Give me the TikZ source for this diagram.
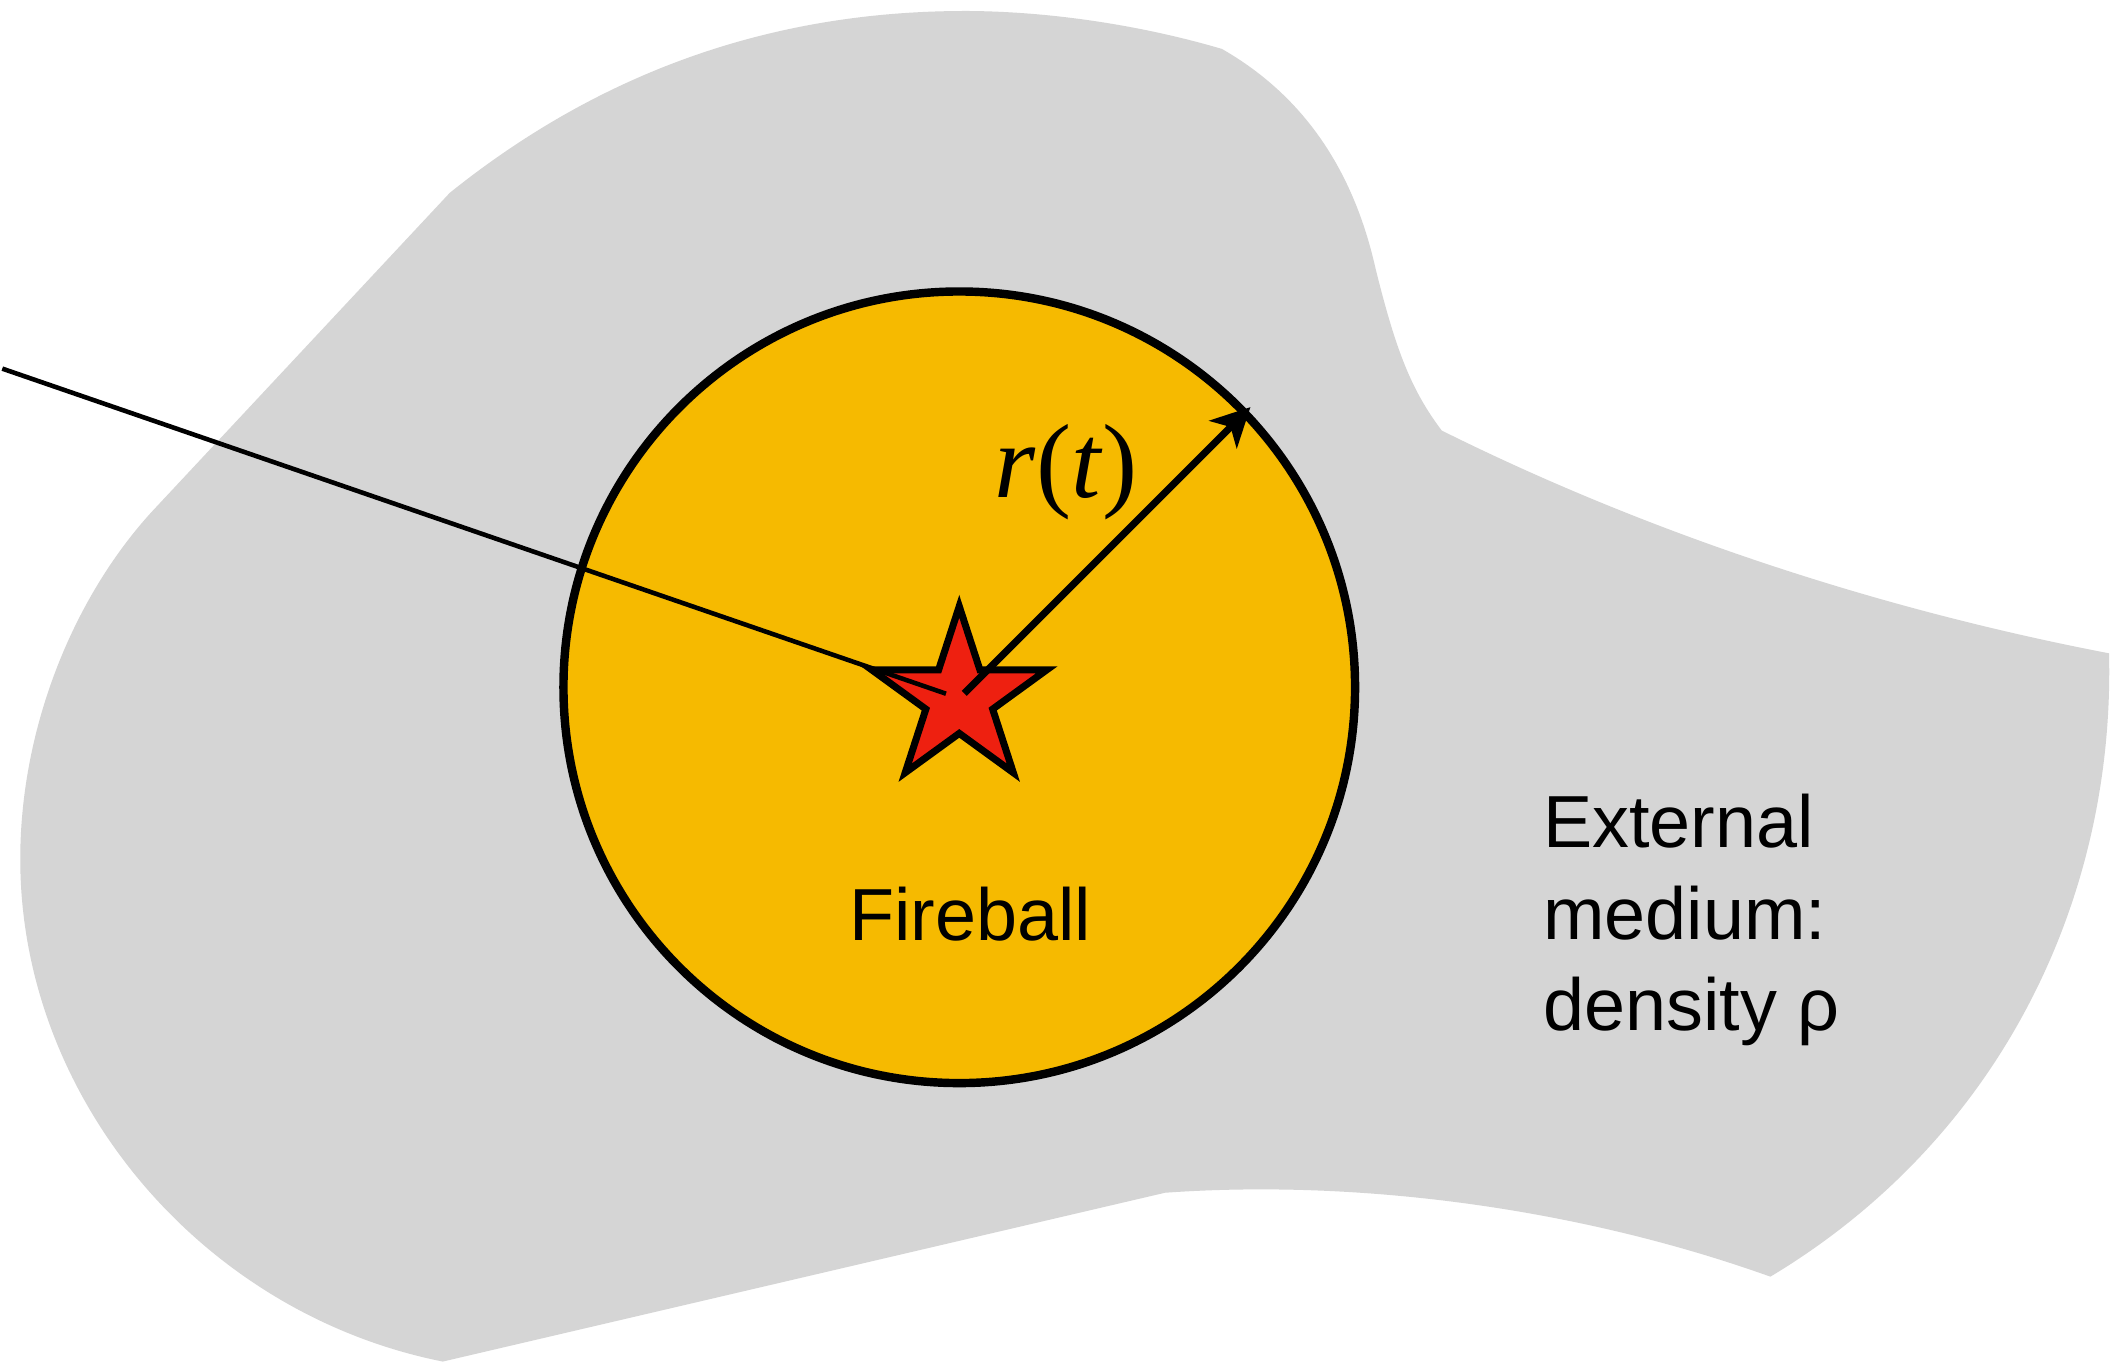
\documentclass[tikz,border=0pt]{standalone}
\usepackage{fontspec}
\setmainfont{Liberation Sans}
\newfontfamily\timesfont{Liberation Serif}
\usetikzlibrary{shapes.geometric,arrows.meta}
\definecolor{mediumgray}{HTML}{D5D5D5}
\definecolor{fireyellow}{HTML}{F6BA00}
\definecolor{starred}{HTML}{EE2010}

\begin{document}
\begin{tikzpicture}[x=0.01cm, y=-0.01cm,
    caption/.style={font=\fontsize{21}{26}\selectfont, inner sep=0pt}]
    \fill[white] (0,0) rectangle (2127,1365);

    % External medium
    \fill[mediumgray] (149,513) -- (448,193)
        .. controls (620,55) and (800,10) .. (970,11)
        .. controls (1060,12) and (1150,28) .. (1221,49)
        .. controls (1310,100) and (1355,180) .. (1375,270)
        .. controls (1395,350) and (1410,390) .. (1441,431)
        .. controls (1650,535) and (1880,610) .. (2109,654)
        .. controls (2115,900) and (2000,1140) .. (1770,1278)
        .. controls (1580,1210) and (1360,1180) .. (1164,1194)
        -- (441,1363)
        .. controls (200,1315) and (18,1100) .. (18,860)
        .. controls (18,730) and (70,600) .. (149,513) -- cycle;

    % Fireball and source
    \node[circle, draw, line width=2.4pt, fill=fireyellow, minimum size=7.92cm, inner sep=0pt] (fireball) at (958,688) {};
    \node[star, star points=5, star point ratio=2.618, minimum size=1.84cm, inner sep=0pt, draw, line width=2pt, fill=starred] (star) at (958,699) {};

    % Line of sight and radius
    \coordinate (src) at (0,369);
    \coordinate (rim) at ([shift={(45:4.12cm)}]star.center);
    \draw[line width=1.3pt, shorten >=4pt] (src) -- (star.center);
    \draw[line width=2pt, -{Stealth[length=11pt, width=11pt, inset=3pt]}, shorten <=2pt] (star.center) -- (rim);

    % Labels
    \node[inner sep=0pt, anchor=base, font=\timesfont\fontsize{30}{36}\selectfont] (radius) at (1065,498) {\textit{r}(\textit{t})};
    \node[caption, anchor=base] (fireballtext) at (969,941) {Fireball};
    \node[caption, align=left, anchor=west] (medium) at (1542,921) {External\\medium:\\density ρ};
\end{tikzpicture}
\end{document}
